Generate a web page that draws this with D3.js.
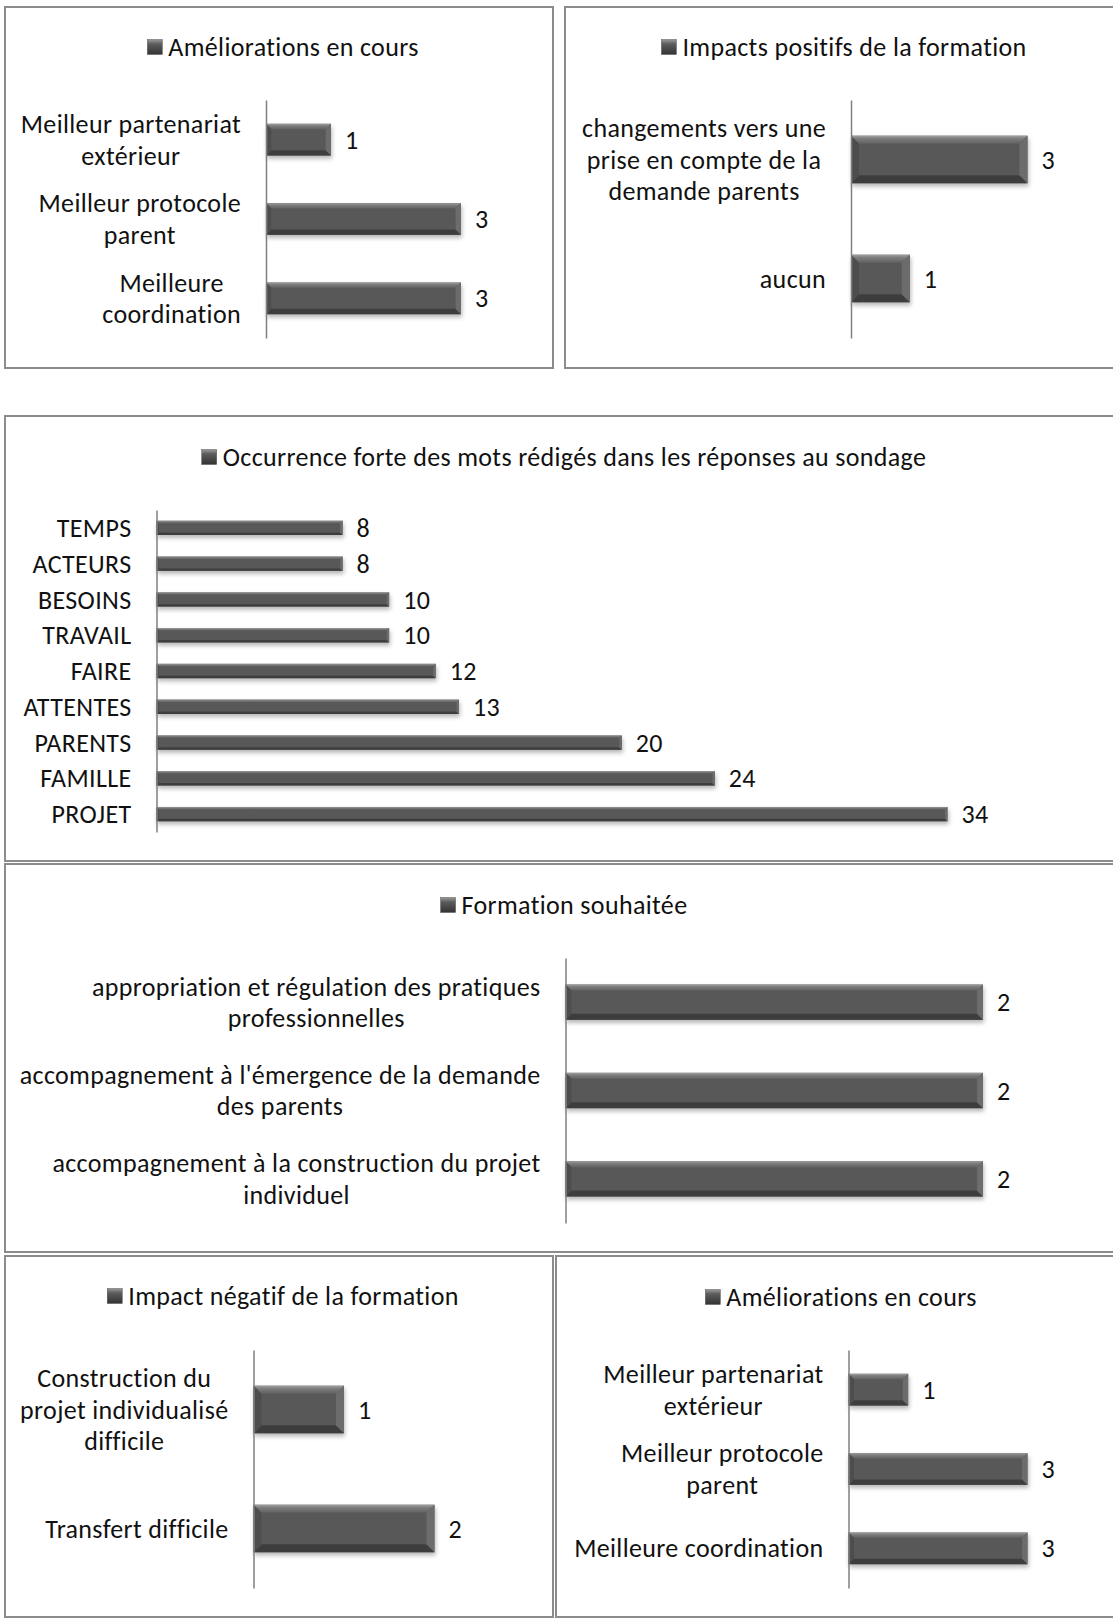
<!DOCTYPE html>
<html>
<head>
<meta charset="utf-8">
<script src="https://cdn.jsdelivr.net/npm/d3@7/dist/d3.min.js"></script>
<style>
  body { margin: 0; background: #fff; }
  svg { display: block; }
  text { font-family: Carlito, Lato, sans-serif; fill: #111; letter-spacing: 0.35px; }
</style>
</head>
<body>
<svg width="1113" height="1619"></svg>
<script>
// data, top to bottom as shown
const amelCats = ['Meilleur partenariat\nextérieur', 'Meilleur protocole\nparent', 'Meilleure\ncoordination'];
const amelValues = [1, 3, 3];
const impactPosCats = ['changements vers une\nprise en compte de la\ndemande parents', 'aucun'];
const impactPosValues = [3, 1];
const motsCats = ['TEMPS', 'ACTEURS', 'BESOINS', 'TRAVAIL', 'FAIRE', 'ATTENTES', 'PARENTS', 'FAMILLE', 'PROJET'];
const motsValues = [8, 8, 10, 10, 12, 13, 20, 24, 34];
const formationCats = ['appropriation et régulation des pratiques\nprofessionnelles',
  "accompagnement à l'émergence de la demande\ndes parents",
  'accompagnement à la construction du projet\nindividuel'];
const formationValues = [2, 2, 2];
const impactNegCats = ['Construction du\nprojet individualisé\ndifficile', 'Transfert difficile'];
const impactNegValues = [1, 2];
const amel2Cats = ['Meilleur partenariat\nextérieur', 'Meilleur protocole\nparent', 'Meilleure coordination'];
const amel2Values = [1, 3, 3];

const titles = ['Améliorations en cours', 'Impacts positifs de la formation',
  'Occurrence forte des mots rédigés dans les réponses au sondage', 'Formation souhaitée',
  'Impact négatif de la formation', 'Améliorations en cours'];

const FS = 26;        // font size
const LH = 31.5;      // wrapped line height

const svg = d3.select('svg');
svg.append('rect').attr('width', 1113).attr('height', 1619).attr('fill', '#fff');

// bevel look
const defs = svg.append('defs');
const gTop = defs.append('linearGradient').attr('id', 'bevTop').attr('x1', 0).attr('y1', 0).attr('x2', 0).attr('y2', 1);
[[0, '#a2a2a2'], [0.35, '#7e7e7e'], [1, '#626262']]
  .forEach(([o, c]) => gTop.append('stop').attr('offset', o).attr('stop-color', c));
const gLeg = defs.append('linearGradient').attr('id', 'legV').attr('x1', 0).attr('y1', 0).attr('x2', 0).attr('y2', 1);
[[0, '#9a9a9a'], [0.3, '#5c5c5c'], [1, '#333']]
  .forEach(([o, c]) => gLeg.append('stop').attr('offset', o).attr('stop-color', c));
const sh = defs.append('filter').attr('id', 'shadow').attr('x', '-10%').attr('y', '-30%').attr('width', '130%').attr('height', '180%');
sh.append('feDropShadow').attr('dx', 1).attr('dy', 3).attr('stdDeviation', 2)
  .attr('flood-color', '#000').attr('flood-opacity', 0.28);

const panels = [
  { cats: amelCats, values: amelValues, max: 3, box: [5, 7, 553, 368], axisX: 266, end: 461, top: 100, bottom: 338, titleX: 283, titleY: 47 },
  { cats: impactPosCats, values: impactPosValues, max: 3, box: [565, 7, 1120, 368], axisX: 851, end: 1027.5, top: 100, bottom: 338, titleX: 844, titleY: 47 },
  { cats: motsCats, values: motsValues, max: 34, box: [5, 416, 1120, 861], axisX: 156.5, end: 947.5, top: 510, bottom: 832, titleX: 564, titleY: 457 },
  { cats: formationCats, values: formationValues, max: 2, box: [5, 864, 1120, 1252], axisX: 565.5, end: 983, top: 958, bottom: 1223, titleX: 564, titleY: 905 },
  { cats: impactNegCats, values: impactNegValues, max: 2, box: [5, 1256, 553, 1617], axisX: 253.5, end: 434.5, top: 1350, bottom: 1588, titleX: 283, titleY: 1296 },
  { cats: amel2Cats, values: amel2Values, max: 3, box: [556, 1256, 1120, 1617], axisX: 848.5, end: 1027.5, top: 1350, bottom: 1588, titleX: 841, titleY: 1297 }
];

const drawPanel = (p, title) => {
  const g = svg.append('g');
  const [x0, y0, x1, y1] = p.box;
  g.append('rect').attr('x', x0).attr('y', y0).attr('width', x1 - x0).attr('height', y1 - y0)
    .attr('fill', '#fff').attr('stroke', '#8c8c8c').attr('stroke-width', 2);

  const y = d3.scaleBand().domain(p.cats).range([p.top, p.bottom]).paddingInner(0.6).paddingOuter(0.3);
  const x = d3.scaleLinear().domain([0, p.max]).range([p.axisX, p.end]);

  // legend / title
  const lg = g.append('g');
  lg.append('rect').attr('width', 15).attr('height', 15).attr('y', -7.5)
    .attr('fill', 'url(#legV)').attr('stroke', '#555').attr('stroke-width', 0.5);
  const tt = lg.append('text').attr('x', 21).attr('dy', '0.35em').attr('font-size', FS).text(title);
  const w = 21 + tt.node().getComputedTextLength();
  lg.attr('transform', `translate(${p.titleX - w / 2},${p.titleY})`);

  // bars: face + four bevel trapezoids
  const hb = y.bandwidth();
  const b = Math.min(8, hb * 0.17);
  const bars = g.selectAll('.bar').data(p.values).enter().append('g').attr('class', 'bar')
    .attr('filter', 'url(#shadow)');
  const geo = (d, i) => ({ l: x(0), r: x(d), t: y(p.cats[i]), bt: y(p.cats[i]) + hb });
  bars.append('rect')
    .attr('x', x(0)).attr('y', (d, i) => y(p.cats[i]))
    .attr('width', d => x(d) - x(0)).attr('height', hb)
    .attr('fill', '#585858');
  const bevel = (fn, fill) => bars.append('path').attr('d', (d, i) => fn(geo(d, i))).attr('fill', fill);
  bevel(q => `M${q.l},${q.t}L${q.r},${q.t}L${q.r - b},${q.t + b}L${q.l + b},${q.t + b}Z`, 'url(#bevTop)');
  bevel(q => `M${q.l},${q.bt}L${q.r},${q.bt}L${q.r - b},${q.bt - b}L${q.l + b},${q.bt - b}Z`, '#3e3e3e');
  bevel(q => `M${q.l},${q.t}L${q.l + b},${q.t + b}L${q.l + b},${q.bt - b}L${q.l},${q.bt}Z`, '#4e4e4e');
  bevel(q => `M${q.r},${q.t}L${q.r - b},${q.t + b}L${q.r - b},${q.bt - b}L${q.r},${q.bt}Z`, '#6c6c6c');

  // axis line
  g.append('g').attr('transform', `translate(${p.axisX},0)`)
    .call(d3.axisLeft(y).tickSize(0).tickFormat(''))
    .select('.domain').attr('stroke', '#7f7f7f').attr('stroke-width', 1.5);

  // category labels (wrapped, centered inside a right-aligned block)
  p.cats.forEach((c, i) => {
    const lines = c.split('\n');
    const cy = y(c) + hb / 2;
    const t = g.append('text').attr('font-size', FS).attr('text-anchor', 'middle');
    const spans = lines.map((s, k) => t.append('tspan').attr('y', cy + (k - (lines.length - 1) / 2) * LH)
      .attr('dy', '0.35em').text(s));
    const maxW = d3.max(spans, s => s.node().getComputedTextLength());
    spans.forEach(s => s.attr('x', p.axisX - 25 - maxW / 2));
  });

  // value labels
  g.selectAll('.val').data(p.values).enter().append('text').attr('class', 'val')
    .attr('font-size', FS)
    .attr('x', d => x(d) + 14)
    .attr('y', (d, i) => y(p.cats[i]) + hb / 2)
    .attr('dy', '0.35em')
    .text(d => d);
};

panels.forEach((p, i) => drawPanel(p, titles[i]));
</script>
</body>
</html>
